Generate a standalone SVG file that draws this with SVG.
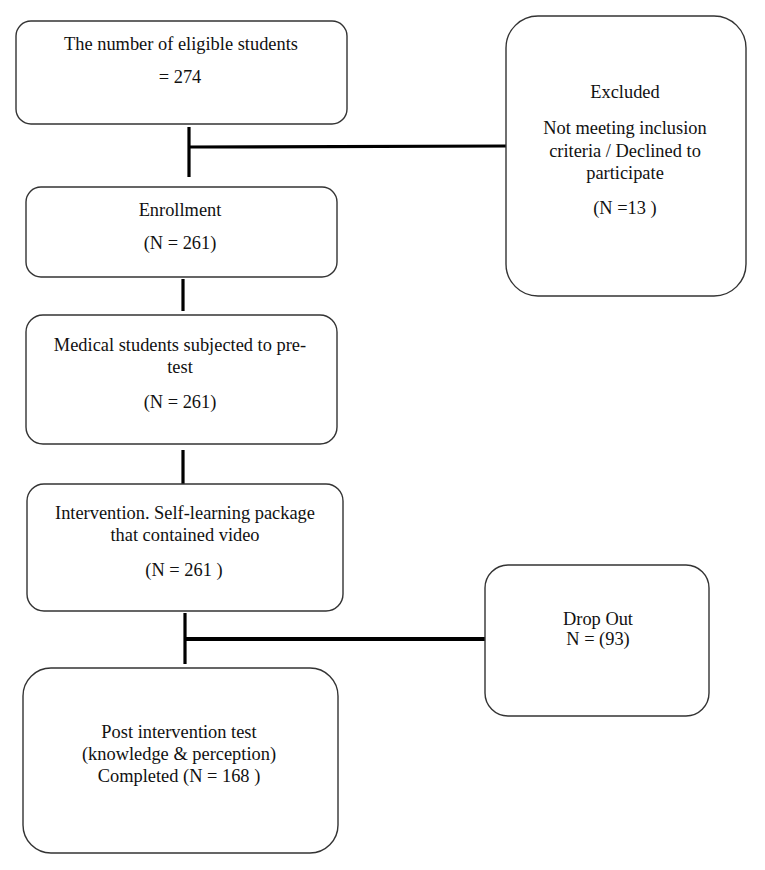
<svg xmlns="http://www.w3.org/2000/svg" width="765" height="870" viewBox="0 0 765 870">
<style>
.box{fill:#fff;stroke:#333;stroke-width:1.4}
.t{font-family:"Liberation Serif","Times New Roman",serif;font-size:18.4px;fill:#111;text-anchor:middle}
.c{stroke:#000;stroke-width:3.2;fill:none}
</style>
<rect width="765" height="870" fill="#fff"/>
<g id="connectors">
<line class="c" x1="189" y1="127" x2="189" y2="177"/>
<line class="c" x1="189" y1="147" x2="506" y2="146"/>
<line class="c" x1="183" y1="279" x2="183" y2="311"/>
<line class="c" x1="183" y1="450" x2="183" y2="484"/>
<line class="c" x1="185" y1="613" x2="185" y2="664"/>
<line class="c" x1="185" y1="639" x2="485" y2="639" style="stroke-width:4"/>
</g>
<g id="eligible">
<rect class="box" x="16" y="21" width="331" height="103" rx="15"/>
<text class="t" x="181" y="50">The number of eligible students</text>
<text class="t" x="180" y="83">= 274</text>
</g>
<g id="excluded">
<rect class="box" x="506" y="16" width="240" height="280" rx="32"/>
<text class="t" x="625" y="98">Excluded</text>
<text class="t" x="625" y="134">Not meeting inclusion</text>
<text class="t" x="625" y="157">criteria / Declined to</text>
<text class="t" x="625" y="179">participate</text>
<text class="t" x="625" y="214">(N =13 )</text>
</g>
<g id="enrollment">
<rect class="box" x="26" y="187" width="311" height="90" rx="15"/>
<text class="t" x="180" y="216">Enrollment</text>
<text class="t" x="180" y="249">(N = 261)</text>
</g>
<g id="pretest">
<rect class="box" x="26" y="315" width="311" height="129" rx="17"/>
<text class="t" x="180" y="351">Medical students subjected to pre-</text>
<text class="t" x="180" y="373">test</text>
<text class="t" x="180" y="408">(N = 261)</text>
</g>
<g id="intervention">
<rect class="box" x="27" y="484" width="316" height="127" rx="17"/>
<text class="t" x="185" y="519">Intervention. Self-learning package</text>
<text class="t" x="185" y="541">that contained video</text>
<text class="t" x="184" y="576">(N = 261 )</text>
</g>
<g id="dropout">
<rect class="box" x="485" y="565" width="224" height="151" rx="23"/>
<text class="t" x="598" y="625">Drop Out</text>
<text class="t" x="598" y="645">N = (93)</text>
</g>
<g id="post">
<rect class="box" x="23" y="668" width="315" height="185" rx="28"/>
<text class="t" x="179" y="738">Post intervention test</text>
<text class="t" x="179" y="760">(knowledge &amp; perception)</text>
<text class="t" x="179" y="782">Completed (N = 168 )</text>
</g>
</svg>
